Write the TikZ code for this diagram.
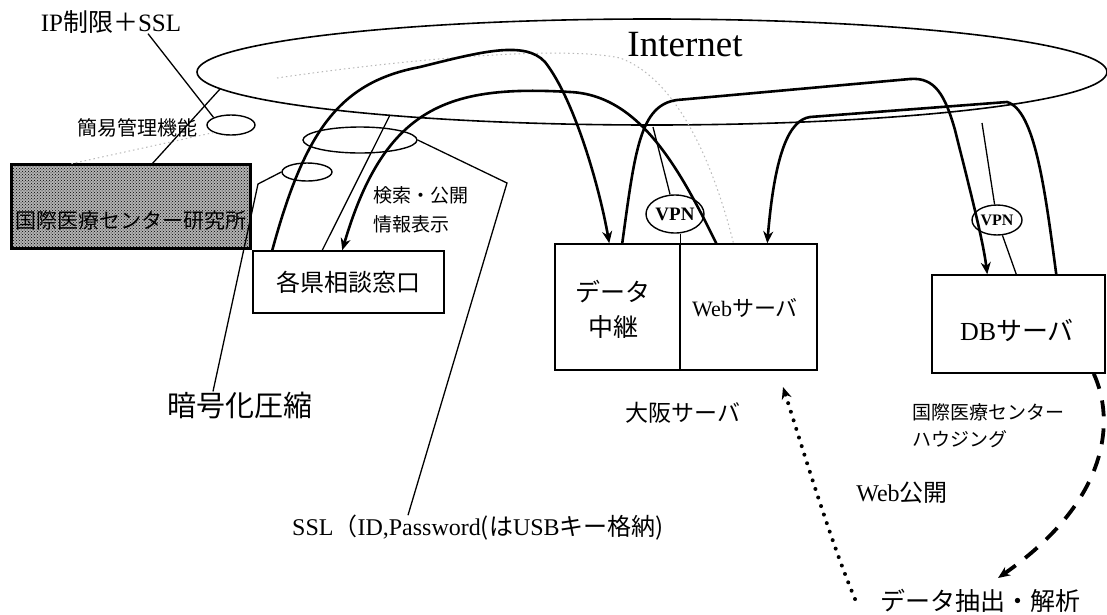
\documentclass[tikz,border=0pt]{standalone}
\usepackage{fontspec}
\setmainfont{Liberation Serif}
\newfontfamily\jp{Noto Sans CJK JP}
\usetikzlibrary{shapes.geometric,arrows.meta,patterns}
\newcommand\myfs[1]{\fontsize{#1}{#1}\selectfont}
\begin{document}
\begin{tikzpicture}[x=1pt,y=-1pt,
 box/.style={draw,line width=1.5pt,inner sep=0pt},
 oval/.style={draw,ellipse,line width=1.4pt,inner sep=0pt},
 vpnnode/.style={draw,ellipse,line width=1.4pt,inner sep=0pt,font=\bfseries\myfs{19}},
 conn/.style={line width=2.6pt},
 thinl/.style={line width=1.3pt},
 faint/.style={gray!55,line width=1pt,dash pattern=on 1.5pt off 3pt},
 arr/.style={-{Stealth[length=12pt,width=10pt]}},
 txt/.style={inner sep=0pt}]
\fill[white] (0,0) rectangle (1107,614);
\useasboundingbox (0,0) rectangle (1107,614);

% Internet cloud
\node[oval,line width=1.6pt,minimum width=910pt,minimum height=106pt] (inet) at (652,72) {};
\node[txt,font=\myfs{37}] (inettxt) at (685,45) {Internet};

% boxes
\node[box,minimum width=238pt,minimum height=83pt,fill=gray!60,line width=2pt] (lab) at (131,206.5) {};
\fill[pattern=crosshatch dots,pattern color=black] (lab.south west) rectangle (lab.north east);
\draw[line width=2.2pt] (lab.south west) rectangle (lab.north east);
\node[txt,font=\jp\myfs{21}] (labtxt) at (131,221) {国際医療センター研究所};

\node[box,minimum width=191pt,minimum height=62pt,font=\jp\myfs{24}] (ken) at (348.5,282) {各県相談窓口};
\node[box,minimum width=125pt,minimum height=126pt] (relay) at (617.5,307) {};
\node[txt,align=center,font=\jp\fontsize{25}{35}\selectfont] (relaytxt) at (613,309) {データ\\中継};
\node[box,minimum width=137pt,minimum height=126pt] (web) at (748.5,307) {};
\node[txt,font=\myfs{22}] (webtxt) at (745,308) {Web{\jp サーバ}};
\node[box,minimum width=173pt,minimum height=98pt] (db) at (1018.5,324) {};
\node[txt,font=\myfs{26}] (dbtxt) at (1017,330) {DB{\jp サーバ}};

% small ellipses
\node[oval,minimum width=48pt,minimum height=20pt] (e1) at (231,125) {};
\node[oval,minimum width=114pt,minimum height=26pt] (e2) at (360,140) {};
\node[oval,minimum width=50pt,minimum height=18pt] (e3) at (307,172) {};
\node[vpnnode,minimum width=58pt,minimum height=38pt] (vpn1) at (675,214) {VPN};
\node[vpnnode,minimum width=50pt,minimum height=30pt,font=\bfseries\myfs{16}] (vpn2) at (997,220) {VPN};

% labels
\node[txt,font=\myfs{25}] (ipssl) at (111,22) {IP{\jp 制限＋}SSL};
\node[txt,font=\jp\myfs{20}] (kanri) at (137,128) {簡易管理機能};
\node[txt,font=\jp\myfs{29}] (angou) at (240,405) {暗号化圧縮};
\node[txt,align=left,font=\jp\fontsize{19}{29}\selectfont] (kensaku) at (421,210) {検索・公開\\情報表示};
\node[txt,font=\jp\myfs{23}] (osaka) at (683,413) {大阪サーバ};
\node[txt,anchor=west,align=left,font=\jp\fontsize{19}{27}\selectfont] (house) at (912,426) {国際医療センター\\ハウジング};
\node[txt,font=\myfs{24}] (webpub) at (902,493) {Web{\jp 公開}};
\node[txt,font=\jp\myfs{25}] (ext) at (980,601) {データ抽出・解析};
\node[txt,font=\myfs{24}] (ssl) at (478,528) {SSL{\jp （}ID,Password{\jp (は}USB{\jp キー格納)}};

% free ends
\coordinate (c-inet-lab) at (220,89);
\coordinate (c-inet-ken) at (390,115);
\coordinate (c-v1) at (653,127);
\coordinate (c-v2) at (982,123);
\coordinate (c-e3) at (258,184);
\coordinate (c-e2) at (507,183);
\coordinate (c-dtip) at (783,387);
\coordinate (c-dstart) at (855,599);
\coordinate (c-dash) at (998,578);

% faint dotted traces
\draw[faint] (277,78) .. controls (400,60) and (560,45) .. (620,58) .. controls (680,80) and (715,170) .. ([xshift=-15pt]web.north);
\draw[faint] (e1.south west) -- ([xshift=59pt]lab.north west);

% thin lines
\draw[thinl] ([xshift=37pt]ipssl.south) -- (e1.north west);
\draw[thinl] (c-inet-lab) -- ([xshift=21pt]lab.north);
\draw[thinl] (e3.west) -- (c-e3) -- ([xshift=-27pt]angou.north);
\draw[thinl] (e2.east) -- (c-e2) -- ([xshift=-70pt]ssl.north);
\draw[thinl] ([xshift=70pt]ken.north west) -- (c-inet-ken);
\draw[thinl] (c-v1) -- (vpn1);
\draw[thinl] (vpn1.south -| relay.north east) -- (relay.north east);
\draw[thinl] (c-v2) -- (vpn2);
\draw[thinl] (vpn2) -- ([xshift=85pt]db.north west);

% thick connectors
\draw[conn,arr] ([xshift=20pt]ken.north west) .. controls (305,130) and (340,82) .. (420,67)
  .. controls (480,52) and (525,40) .. (545,62) .. controls (575,100) and (600,190) .. ([xshift=55pt]relay.north west);
\draw[conn,arr] ([xshift=37pt]web.north west) .. controls (680,170) and (640,95) .. (570,92)
  .. controls (450,85) and (385,105) .. ([xshift=90pt]ken.north west);
\draw[conn,arr] ([xshift=68pt]relay.north west) .. controls (635,150) and (640,105) .. (677,100) -- (910,79)
  .. controls (935,77) and (945,95) .. (955,130) .. controls (970,190) and (983,240) .. ([xshift=56pt]db.north west);
\draw[conn,arr] ([xshift=125pt]db.north west) .. controls (1045,190) and (1035,110) .. (1007,102) -- (810,117)
  .. controls (790,120) and (775,150) .. ([xshift=88pt]web.north west);

% dashed and dotted arrows
\draw[line width=3.8pt,dash pattern=on 16pt off 12pt,arr] ([xshift=-12pt]db.south east) .. controls (1115,420) and (1110,500) .. (c-dash);
\draw[line width=4pt,line cap=round,dash pattern=on 0pt off 9pt,arr] (c-dstart) .. controls (830,540) and (800,440) .. (c-dtip);
\end{tikzpicture}
\end{document}
